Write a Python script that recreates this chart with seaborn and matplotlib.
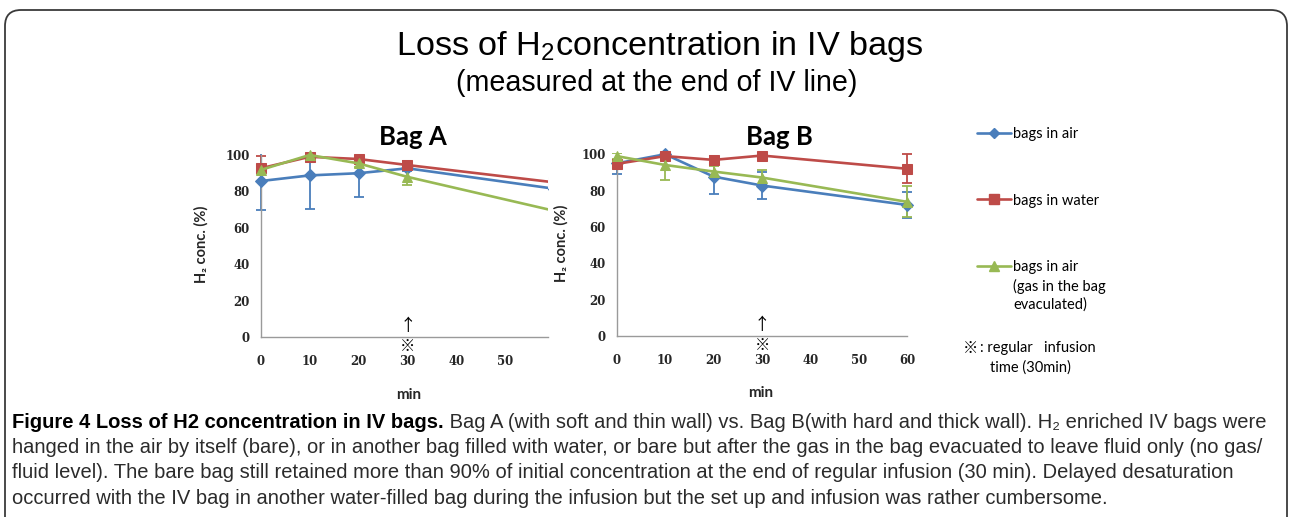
import matplotlib
matplotlib.use("Agg")
import matplotlib.pyplot as plt
import seaborn as sns
import pandas as pd
from matplotlib.lines import Line2D
from matplotlib.patches import FancyBboxPatch
from matplotlib.transforms import Bbox, TransformedBbox

# --- datos ---
minutes = [0, 10, 20, 30, 60]
series_names = ["bags in air", "bags in water", "bags in air (evac)"]

a_air = [85.7, 88.8, 90.0, 92.7, 81.5]
a_water = [92.7, 99.0, 97.8, 94.5, 85.0]
a_evac = [91.8, 100.0, 95.4, 88.0, 69.4]
a_air_err = [16.0, 18.6, 13.0, 1.5, 2.0]
a_water_err = [7.0, 2.0, 1.5, 2.0, 2.0]
a_evac_err = [2.0, 1.5, 2.0, 4.5, 2.0]

b_air = [95.0, 100.0, 87.7, 82.8, 72.1]
b_water = [94.7, 99.0, 96.9, 99.3, 92.0]
b_evac = [99.0, 94.1, 90.5, 87.2, 73.8]
b_air_err = [6.0, 1.0, 9.5, 7.5, 7.0]
b_water_err = [2.0, 1.5, 2.0, 1.5, 8.0]
b_evac_err = [1.5, 8.5, 3.0, 4.0, 8.5]

x_ticks_a = [0, 10, 20, 30, 40, 50]
x_ticks_b = [0, 10, 20, 30, 40, 50, 60]
y_ticks = [0, 20, 40, 60, 80, 100]

colors = {series_names[0]: "#4A7EBB", series_names[1]: "#BE4B48", series_names[2]: "#98B954"}
markers = {series_names[0]: "D", series_names[1]: "s", series_names[2]: "^"}
msizes = {series_names[0]: 6, series_names[1]: 7.5, series_names[2]: 7.5}

sns.set_style("white")
plt.rcParams["mathtext.fontset"] = "custom"
plt.rcParams["mathtext.rm"] = "Liberation Sans"
plt.rcParams["mathtext.it"] = "Liberation Sans:italic"
plt.rcParams["text.color"] = "black"

W, H = 1292, 517
fig = plt.figure(figsize=(W / 100, H / 100), dpi=100)


def px_axes(left, right, bottom, top):
    return fig.add_axes([left / W, 1 - bottom / H, (right - left) / W, (bottom - top) / H])


def dibujar_panel(ax, vals, errs, titulo, xlim, xticks, ylab_x, xlab_x, tit_x):
    rows = []
    for name, v in zip(series_names, vals):
        for m, c in zip(minutes, v):
            rows.append({"min": m, "conc": c, "serie": name})
    df = pd.DataFrame(rows)

    ax.set_xlim(*xlim)
    ax.set_ylim(0, 104)
    # Excel recorta las barras de error en el borde del area de trazado
    caja = TransformedBbox(Bbox([[xlim[0], -10], [xlim[1], 100.6]]), ax.transData)
    for name, v, e in zip(series_names, vals, errs):
        cont = ax.errorbar(minutes, v, yerr=e, fmt="none", ecolor=colors[name],
                           elinewidth=1.3, capsize=3.5, capthick=1.3, zorder=2)
        for art in cont.get_children():
            art.set_clip_box(caja)

    for name in series_names:
        sub = df[df["serie"] == name]
        sns.lineplot(data=sub, x="min", y="conc", ax=ax, color=colors[name],
                     marker=markers[name], markersize=msizes[name],
                     markeredgecolor=colors[name], linewidth=1.9,
                     legend=False, zorder=3)

    ax.set_xlim(*xlim)
    ax.set_ylim(0, 104)
    ax.set_xticks(xticks)
    ax.set_yticks(y_ticks)
    for s in ["top", "right"]:
        ax.spines[s].set_visible(False)
    for s in ["left", "bottom"]:
        ax.spines[s].set_color("#9a9a9a")
        ax.spines[s].set_linewidth(1.0)
    ax.spines["left"].set_position(("data", 0))
    ax.spines["left"].set_bounds(0, 100)
    ax.spines["bottom"].set_bounds(0, min(xlim[1], 60))
    ax.tick_params(length=0)
    ax.tick_params(axis="y", pad=8)
    ax.tick_params(axis="x", pad=13)
    for lab in ax.get_xticklabels() + ax.get_yticklabels():
        lab.set_fontfamily("DejaVu Serif")
        lab.set_fontweight("bold")
        lab.set_fontsize(8.5)

    ax.set_xlabel("min", fontfamily="Lato", fontweight="bold", fontsize=11)
    ax.xaxis.set_label_coords(xlab_x, -0.265)
    ax.set_ylabel("H₂ conc. (%)", fontfamily=["Lato", "DejaVu Sans"],
                  fontweight="bold", fontsize=10.5)
    ax.yaxis.set_label_coords(ylab_x, 0.49)
    ax.text(tit_x, 1.055, titulo, transform=ax.transAxes, ha="center", va="center",
            fontfamily="Lato", fontweight="bold", fontsize=18.5)

    # marca del tiempo regular de infusion
    ax.text(30, 5.8, "↑", ha="center", va="center", fontsize=12,
            fontfamily=["Noto Sans CJK JP", "DejaVu Sans"], clip_on=False)
    ax.text(30, -5.2, "※", ha="center", va="center", fontsize=11,
            fontfamily=["Noto Sans CJK JP", "DejaVu Sans"], clip_on=False)


# x = 0 en 260.7 px, 4.89 px por minuto
ax_a = px_axes(260.7 - 2 * 4.89, 548, 337.3, 147.7)
dibujar_panel(ax_a, [a_air, a_water, a_evac], [a_air_err, a_water_err, a_evac_err],
              "Bag A", (-2, 58.75), x_ticks_a, -0.141, 0.53, 0.545)

# x = 0 en 616.7 px, 4.843 px por minuto
ax_b = px_axes(616.7 - 2 * 4.843, 914.6, 336, 147)
dibujar_panel(ax_b, [b_air, b_water, b_evac], [b_air_err, b_water_err, b_evac_err],
              "Bag B", (-2, 61.5), x_ticks_b, -0.124, 0.50, 0.56)

# leyenda
handles = [Line2D([], [], color=colors[n], marker=markers[n], markersize=msizes[n] - 1,
                  linewidth=1.9) for n in series_names]
labels = ["bags in air", "bags in water", "bags in air"]
fig.legend(handles, labels, loc="upper left", bbox_to_anchor=(977 / W, 1 - 127 / H),
           frameon=False, prop={"family": "Lato", "size": 10.5},
           handlelength=2.3, handletextpad=0.2, labelspacing=3.6, borderpad=0,
           borderaxespad=0)
ley_font = dict(fontfamily="Lato", fontsize=10.5, va="center", ha="left")
fig.text(1013 / W, 1 - 286 / H, "(gas in the bag", **ley_font)
fig.text(1013 / W, 1 - 305 / H, "evaculated)", **ley_font)
fig.text(963 / W, 1 - 348 / H, "※", fontfamily=["Noto Sans CJK JP", "DejaVu Sans"],
         fontsize=11, va="center", ha="left")
fig.text(980 / W, 1 - 348 / H, ": regular   infusion", **ley_font)
fig.text(990 / W, 1 - 368 / H, "time (30min)", **ley_font)

# titulo general
fig.text(659.5 / W, 1 - 46 / H, "Loss of H$_2$concentration in IV bags", ha="center",
         va="center", fontfamily="Liberation Sans", fontsize=24.7)
fig.text(656.5 / W, 1 - 83 / H, "(measured at the end of IV line)", ha="center",
         va="center", fontfamily="Liberation Sans", fontsize=20.6)

# marco redondeado
marco = FancyBboxPatch((0.05, -0.5), 12.82, 5.57,
                       boxstyle="round,pad=0,rounding_size=0.16",
                       transform=fig.dpi_scale_trans, fill=False,
                       edgecolor="#3a3a3a", linewidth=1.3)
fig.patches.append(marco)

# pie de figura
cap_font = ["Liberation Sans", "DejaVu Sans"]
cap_size = 14.5
cap_color = "#2b2b2b"
negrita = fig.text(12 / W, 1 - 422 / H, "Figure 4 Loss of H2 concentration in IV bags.",
                   fontfamily=cap_font, fontweight="bold", fontsize=cap_size,
                   color="black", va="center", ha="left")
cap_lines = [
    "hanged in the air by itself (bare), or in another bag filled with water, or bare but "
    "after the gas in the bag evacuated to leave fluid only (no gas/",
    "fluid level). The bare bag still retained more than 90% of initial concentration at "
    "the end of regular infusion (30 min). Delayed desaturation",
    "occurred with the IV bag in another water-filled bag during the infusion but the set "
    "up and infusion was rather cumbersome.",
]
fig.canvas.draw()
r = fig.canvas.get_renderer()
bb = negrita.get_window_extent(renderer=r)
fig.text(bb.x1 / W, 1 - 422 / H,
         " Bag A (with soft and thin wall) vs. Bag B(with hard and thick wall). "
         "H₂ enriched IV bags were", fontfamily=cap_font, fontsize=cap_size,
         color=cap_color, va="center", ha="left")
for i, line in enumerate(cap_lines):
    fig.text(12 / W, 1 - (447.5 + 25.3 * i) / H, line, fontfamily=cap_font,
             fontsize=cap_size, color=cap_color, va="center", ha="left")

fig.savefig("out.png", dpi=100)
